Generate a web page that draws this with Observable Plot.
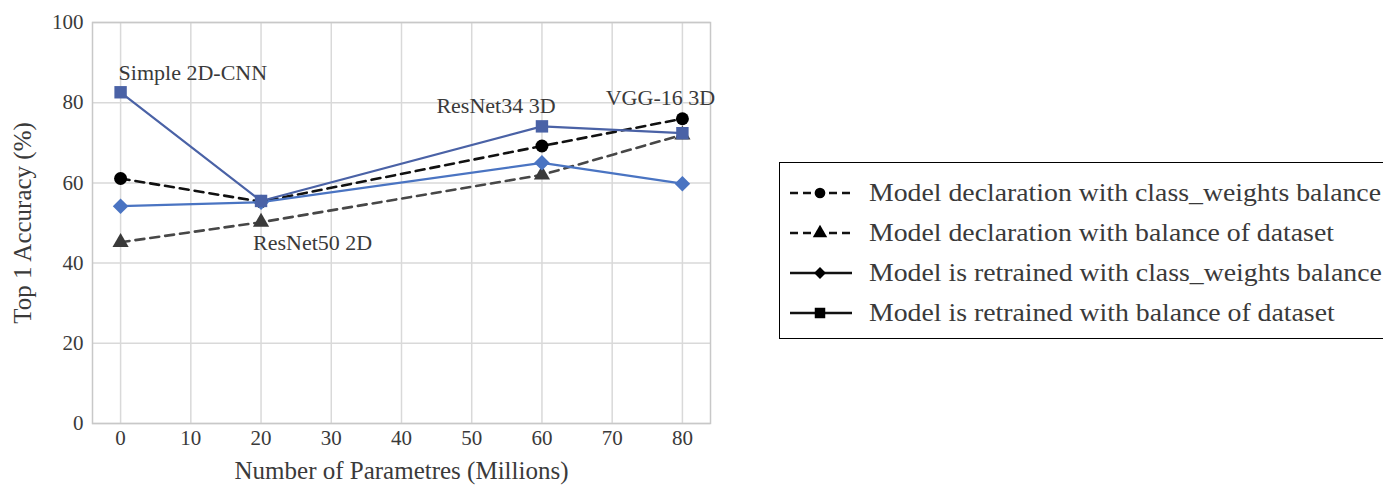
<!DOCTYPE html>
<html><head><meta charset="utf-8">
<script src="https://cdn.jsdelivr.net/npm/d3@7"></script>
<script src="https://cdn.jsdelivr.net/npm/@observablehq/plot@0.6"></script>
<style>
body{margin:0;background:#fff;font-family:"Liberation Serif","Times New Roman",serif;}
#wrap{position:relative;width:1383px;height:488px;overflow:hidden;}
#chart{position:absolute;left:0;top:0;}
#legend{position:absolute;left:779px;top:162px;width:620px;height:177px;border:1.5px solid #000;box-sizing:border-box;}
.row{position:absolute;left:0;height:40px;display:flex;align-items:center;}
.row svg{margin-left:9px;flex:none;}
.row span{margin-left:16px;font-size:26px;color:#3a3a3a;white-space:nowrap;display:inline-block;transform-origin:left center;}
</style></head>
<body><div id="wrap"><div id="chart"></div><div id="legend"></div></div>
<script>
const params = [0, 20, 60, 80];
const declClassWeights = [61.1, 55.3, 69.2, 76.0];
const declBalance = [45.2, 50.2, 62.0, 72.0];
const retrainClassWeights = [54.2, 55.2, 65.0, 59.8];
const retrainBalance = [82.6, 55.5, 74.1, 72.4];
const seriesNames = [
  "Model declaration with class_weights balance",
  "Model declaration with balance of dataset",
  "Model is retrained with class_weights balance",
  "Model is retrained with balance of dataset"
];
const modelLabels = ["Simple 2D-CNN", "ResNet50 2D", "ResNet34 3D", "VGG-16 3D"];
const xTicks = [0, 10, 20, 30, 40, 50, 60, 70, 80];
const yTicks = [0, 20, 40, 60, 80, 100];

const rows = (vals) => params.map((p, i) => ({x: p, y: vals[i]}));
const dCW = rows(declClassWeights), dB = rows(declBalance), rCW = rows(retrainClassWeights), rB = rows(retrainBalance);

const blueSq = "#4a62a6", blueDi = "#4a74c2";
const txt = "#3a3a3a";
const serif = "'Liberation Serif', 'Times New Roman', serif";

const labelRows = [
  {x: params[0], y: retrainBalance[0], t: modelLabels[0], anchor: "start", dx: -2, dy: -19},
  {x: params[1], y: declBalance[1], t: modelLabels[1], anchor: "start", dx: -8, dy: 21},
  {x: params[2], y: retrainBalance[2], t: modelLabels[2], anchor: "middle", dx: -46, dy: -20},
  {x: params[3], y: declClassWeights[3], t: modelLabels[3], anchor: "middle", dx: -22, dy: -21}
];

const chart = Plot.plot({
  width: 730, height: 488,
  marginLeft: 92, marginRight: 20, marginTop: 22, marginBottom: 65,
  style: {fontFamily: serif, background: "transparent"},
  x: {domain: [-4, 84]},
  y: {domain: [0, 100]},
  marks: [
    Plot.gridX(xTicks, {stroke: "#d9d9d9", strokeOpacity: 1, strokeWidth: 1.5}),
    Plot.gridY(yTicks, {stroke: "#d9d9d9", strokeOpacity: 1, strokeWidth: 1.5}),
    Plot.frame({stroke: "#c8c8c8", strokeWidth: 1.5}),
    Plot.axisX(xTicks, {tickSize: 0, tickPadding: 7, fontSize: 21, fill: txt, label: null}),
    Plot.axisY(yTicks, {tickSize: 0, tickPadding: 9, fontSize: 21, fill: txt, label: null}),
    Plot.text(["Number of Parametres (Millions)"], {frameAnchor: "bottom", dy: 55, fontSize: 25, fill: txt}),
    Plot.text(["Top 1 Accuracy (%)"], {frameAnchor: "left", textAnchor: "middle", dx: -70, rotate: -90, fontSize: 25, fill: txt}),
    Plot.line(dB, {x: "x", y: "y", stroke: "#474747", strokeWidth: 2.6, strokeDasharray: "9,6"}),
    Plot.line(dCW, {x: "x", y: "y", stroke: "#111", strokeWidth: 2.6, strokeDasharray: "9,6"}),
    Plot.line(rCW, {x: "x", y: "y", stroke: blueDi, strokeWidth: 2.2}),
    Plot.line(rB, {x: "x", y: "y", stroke: blueSq, strokeWidth: 2.2}),
    Plot.dot(dB, {x: "x", y: "y", symbol: "triangle", r: 6, fill: "#3a3a3a", stroke: "none"}),
    Plot.dot(dCW, {x: "x", y: "y", symbol: "circle", r: 6.5, fill: "#000", stroke: "none"}),
    Plot.dot(rCW, {x: "x", y: "y", symbol: "diamond2", r: 7, fill: blueDi, stroke: "none"}),
    Plot.dot(rB, {x: "x", y: "y", symbol: "square", r: 7, fill: blueSq, stroke: "none"}),
    ...labelRows.map(d => Plot.text([d], {x: "x", y: "y", text: "t", textAnchor: d.anchor, dx: d.dx, dy: d.dy, fontSize: 22, fill: txt}))
  ]
});
document.getElementById("chart").appendChild(chart);

// Legend
const legend = document.getElementById("legend");
const kinds = [
  {dash: "8,5", sym: "circle"},
  {dash: "8,5", sym: "triangle"},
  {dash: null, sym: "diamond"},
  {dash: null, sym: "square"}
];
const targetWidth = 512;
seriesNames.forEach((name, i) => {
  const k = kinds[i];
  const row = document.createElement("div");
  row.className = "row";
  row.style.top = (10 + i * 40) + "px";
  const ns = "http://www.w3.org/2000/svg";
  const svg = document.createElementNS(ns, "svg");
  svg.setAttribute("width", 64); svg.setAttribute("height", 20);
  const line = document.createElementNS(ns, "line");
  line.setAttribute("x1", 1); line.setAttribute("x2", 63); line.setAttribute("y1", 10); line.setAttribute("y2", 10);
  line.setAttribute("stroke", "#111"); line.setAttribute("stroke-width", 2.6);
  if (k.dash) line.setAttribute("stroke-dasharray", k.dash);
  svg.appendChild(line);
  const p = document.createElementNS(ns, "path");
  const size = k.sym === "square" ? 110 : 90;
  const symT = {circle: d3.symbolCircle, triangle: d3.symbolTriangle, diamond: d3.symbolDiamond2, square: d3.symbolSquare}[k.sym];
  p.setAttribute("d", d3.symbol(symT, size)());
  p.setAttribute("transform", "translate(31,10)");
  p.setAttribute("fill", "#000");
  svg.appendChild(p);
  row.appendChild(svg);
  const span = document.createElement("span");
  span.textContent = name;
  row.appendChild(span);
  legend.appendChild(row);
});
// stretch legend text horizontally to match the reference's wide lettering
const spans = [...legend.querySelectorAll("span")];
const w0 = spans[0].getBoundingClientRect().width;
const sx = targetWidth / w0;
spans.forEach(s => s.style.transform = `scaleX(${sx})`);
</script>
</body></html>
